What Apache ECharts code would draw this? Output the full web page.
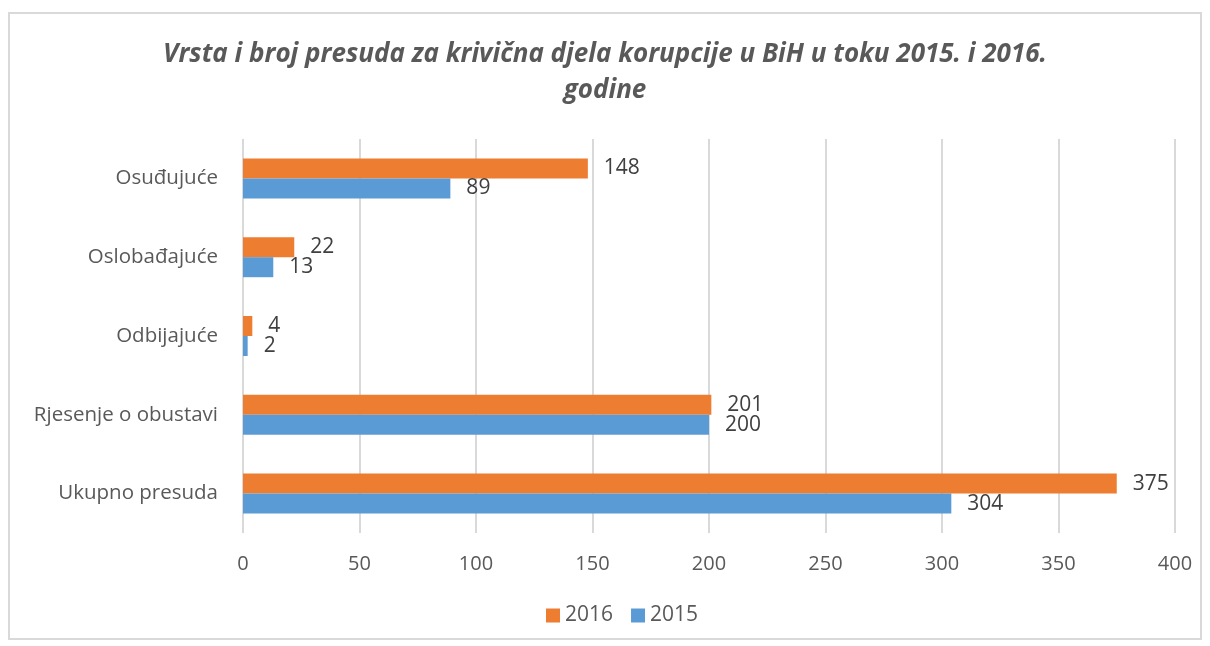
<!DOCTYPE html>
<html>
<head>
<meta charset="utf-8">
<script src="https://cdn.jsdelivr.net/npm/echarts@6/dist/echarts.min.js"></script>
<style>
  html, body { margin: 0; padding: 0; background: #fff; }
  #chart { width: 1210px; height: 646px; }
</style>
</head>
<body>
<div id="chart"></div>
<script>
// kategorije odozgo prema dolje
const categories = ['Osuđujuće', 'Oslobađajuće', 'Odbijajuće', 'Rjesenje o obustavi', 'Ukupno presuda']
const values2016 = [148, 22, 4, 201, 375]
const values2015 = [89, 13, 2, 200, 304]
const xTicks = [0, 50, 100, 150, 200, 250, 300, 350, 400]

const fontFam = '"Open Sans", "Liberation Sans", sans-serif'

const chart = echarts.init(document.getElementById('chart'))

const labelStyle = {
    show: true,
    position: 'right',
    distance: 16,
    color: '#404040',
    fontSize: 21,
    fontFamily: fontFam
}

chart.setOption({
    animation: false,
    title: {
        text: 'Vrsta i broj presuda za krivična djela korupcije u BiH u toku 2015. i 2016.\ngodine',
        left: 'center',
        top: 32,
        textStyle: {
            fontSize: 26,
            fontStyle: 'italic',
            fontWeight: 'bold',
            color: '#595959',
            fontFamily: fontFam,
            lineHeight: 36
        }
    },
    graphic: [{
        type: 'rect',
        shape: { x: 9, y: 13, width: 1192, height: 626 },
        style: { fill: 'none', stroke: '#d9d9d9', lineWidth: 2 },
        silent: true
    }],
    legend: {
        data: ['2016', '2015'],
        bottom: 15,
        left: 541,
        itemWidth: 14,
        itemHeight: 14,
        itemGap: 18,
        icon: 'rect',
        textStyle: { fontSize: 21, color: '#595959', fontFamily: fontFam }
    },
    grid: { left: 243, right: 35, top: 139, bottom: 113 },
    xAxis: {
        type: 'value',
        min: xTicks[0],
        max: xTicks[xTicks.length - 1],
        interval: 50,
        axisLine: { show: false },
        axisTick: { show: false },
        axisLabel: { fontSize: 20, color: '#595959', margin: 21, fontFamily: fontFam },
        splitLine: { lineStyle: { color: '#d9d9d9', width: 2 } }
    },
    yAxis: {
        type: 'category',
        data: categories,
        inverse: true,
        axisLine: { show: false },
        axisTick: { show: false },
        axisLabel: { fontSize: 20.5, color: '#595959', margin: 25, fontFamily: fontFam }
    },
    series: [
        {
            name: '2016',
            type: 'bar',
            data: values2016,
            barWidth: 20,
            barGap: '0%',
            itemStyle: { color: '#ED7D31' },
            label: labelStyle
        },
        {
            name: '2015',
            type: 'bar',
            data: values2015,
            barWidth: 20,
            barGap: '0%',
            itemStyle: { color: '#5B9BD5' },
            label: labelStyle
        }
    ]
})
</script>
</body>
</html>
